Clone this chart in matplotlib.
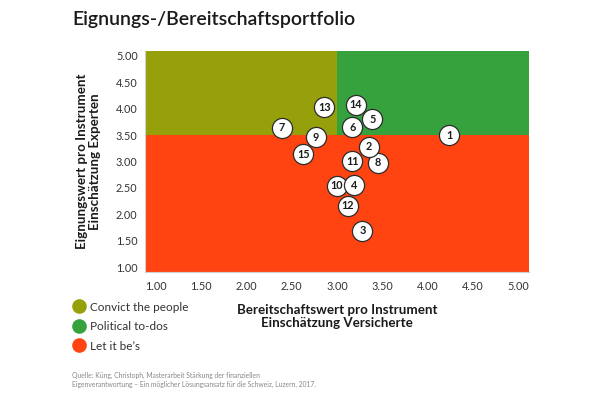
import matplotlib
matplotlib.use("Agg")
import matplotlib.pyplot as plt
from matplotlib.lines import Line2D

plt.rcParams['font.family'] = ['Lato', 'DejaVu Sans']

# ---- data ----
labels = ["1", "2", "3", "4", "5", "6", "7", "8", "9", "10", "11", "12", "13", "14", "15"]
x_vals = [4.24, 3.35, 3.28, 3.19, 3.39, 3.17, 2.39, 3.45, 2.77, 3.00, 3.17, 3.12, 2.86, 3.21, 2.63]
y_vals = [3.50, 3.28, 1.69, 2.55, 3.80, 3.65, 3.64, 2.98, 3.46, 2.54, 3.00, 2.16, 4.03, 4.07, 3.14]
x_split = 3.0
y_split = 3.5
ticks = [1.0, 1.5, 2.0, 2.5, 3.0, 3.5, 4.0, 4.5, 5.0]
tick_labels = ["1.00", "1.50", "2.00", "2.50", "3.00", "3.50", "4.00", "4.50", "5.00"]
zone_names = ["Convict the people", "Political to-dos", "Let it be’s"]
zone_colors = ["#96A00A", "#36A23E", "#FF4412"]

title = "Eignungs-/Bereitschaftsportfolio"
xlabel = "Bereitschaftswert pro Instrument\nEinschätzung Versicherte"
ylabel = "Eignungswert pro Instrument\nEinschätzung Experten"
source = ("Quelle: Küng, Christoph, Masterarbeit Stärkung der finanziellen\n"
          "Eigenverantwortung – Ein möglicher Lösungsansatz für die Schweiz, Luzern, 2017.")

xmin, xmax = 0.88, 5.12
ymin, ymax = 0.905, 5.09

fig = plt.figure(figsize=(6, 4), dpi=100)
ax = fig.add_axes([0.241, 0.3195, 0.641, 0.553])
ax.set_xlim(xmin, xmax)
ax.set_ylim(ymin, ymax)

# quadrants
ax.fill_between([xmin, x_split], y_split, ymax, color=zone_colors[0], lw=0, zorder=0)
ax.fill_between([x_split, xmax], y_split, ymax, color=zone_colors[1], lw=0, zorder=0)
ax.fill_between([xmin, xmax], ymin, y_split, color=zone_colors[2], lw=0, zorder=0)

# points (drawn so lower numbers sit on top)
n = len(labels)
for i in range(n - 1, -1, -1):
    z = 3 + (n - i) * 0.01
    ax.scatter([x_vals[i]], [y_vals[i]], s=210, facecolor="white",
               edgecolor="#2b2b2b", linewidth=0.9, zorder=z)
    ax.text(x_vals[i], y_vals[i], labels[i], ha="center", va="center",
            fontsize=7.8, fontweight="bold", color="#1a1a1a", zorder=z + 0.005)

ax.set_xticks(ticks)
ax.set_xticklabels(tick_labels)
ax.set_yticks(ticks)
ax.set_yticklabels(tick_labels)
ax.tick_params(length=0, labelsize=7.8, labelcolor="#333333")
ax.tick_params(axis="x", pad=6)
ax.tick_params(axis="y", pad=5)
for s in ["top", "right"]:
    ax.spines[s].set_visible(False)
for s in ["left", "bottom"]:
    ax.spines[s].set_color("#d0d0d0")
    ax.spines[s].set_linewidth(0.8)

ax.set_xlabel(xlabel, fontsize=9.6, fontweight="bold", color="#1a1a1a",
              linespacing=1.1, labelpad=9)
ax.set_ylabel(ylabel, fontsize=9.6, fontweight="bold", color="#1a1a1a",
              linespacing=1.1, labelpad=11)

fig.text(0.12, 0.952, title, fontsize=14, fontweight="semibold", color="#1a1a1a",
         ha="left", va="center")

handles = [Line2D([], [], marker="o", linestyle="none", markersize=9.5,
                  markerfacecolor=c, markeredgecolor=c) for c in zone_colors]
fig.legend(handles, zone_names, loc="upper left", bbox_to_anchor=(0.122, 0.246),
           frameon=False, fontsize=8.5, labelcolor="#333333", handlelength=1.0,
           handletextpad=0.45, labelspacing=0.72, borderpad=0, borderaxespad=0)

fig.text(0.12, 0.05, source, fontsize=4.9, color="#888888", ha="left", va="center",
         linespacing=1.45)

fig.savefig("out.png", dpi=100)
